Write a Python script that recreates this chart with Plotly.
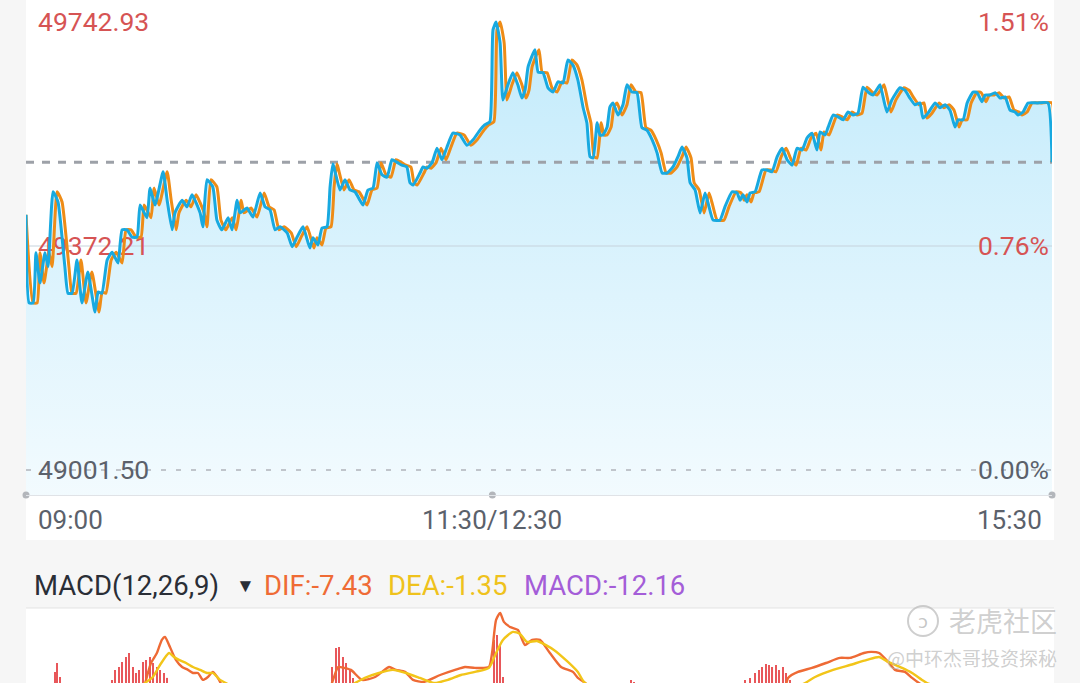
import plotly.graph_objects as go

W, H = 1080, 683

# ---------------- data ----------------
# minutes since 09:00 on a trading-time axis (09:00-11:30 = 0..150, 12:30-15:30 = 150..330)
minute = [
    0, 1.0, 2.3, 3.2, 4.5, 6.1, 7.1, 8.7, 10.3, 12.5,
    13.5, 14.8, 16.4, 18.0, 19.9, 22.2, 23.2, 24.4, 26.1, 27.7,
    29.6, 30.9, 32.5, 34.1, 35.7, 36.7, 38.9, 39.9, 41.5, 44.1,
    45.4, 47.0, 47.9, 50.2, 51.8, 53.4, 56.0, 56.9, 58.2, 60.1,
    61.4, 63.0, 65.0, 66.3, 67.9, 68.8, 71.1, 73.0, 75.3, 76.9,
    78.5, 80.1, 81.7, 84.0, 85.6, 87.2, 89.1, 91.3, 92.3, 93.9,
    95.2, 96.8, 97.8, 98.7, 101.0, 102.6, 104.2, 105.8, 107.4, 108.4,
    110.0, 111.6, 112.9, 114.5, 116.1, 117.7, 119.3, 120.9, 122.5, 123.5,
    124.5, 126.7, 127.7, 129.0, 130.6, 132.2, 133.8, 135.4, 137.3, 139.6,
    141.8, 143.8, 146.0, 147.6, 149.2, 150.2, 151.2, 152.5, 153.4, 155.0,
    156.6, 158.2, 159.5, 160.5, 161.5, 163.7, 164.7, 166.3, 167.9, 169.5,
    171.1, 172.7, 174.3, 175.9, 177.5, 179.2, 180.4, 181.4, 182.4, 183.7,
    184.6, 185.6, 186.9, 187.8, 188.8, 190.4, 192.0, 193.3, 194.9, 196.5,
    198.1, 199.7, 201.4, 203.0, 204.6, 206.2, 208.1, 209.7, 211.0, 212.6,
    213.6, 215.2, 216.8, 218.4, 219.4, 221.0, 223.2, 224.8, 227.1, 228.7,
    229.7, 230.6, 231.9, 232.9, 234.5, 236.7, 238.3, 239.9, 241.6, 243.2,
    244.8, 246.4, 248.0, 249.6, 251.2, 252.8, 254.4, 255.4, 257.0, 258.0,
    259.6, 261.2, 262.8, 264.4, 266.0, 267.6, 269.2, 270.8, 272.4, 274.0,
    274.7, 276.9, 278.5, 281.1, 282.7, 284.3, 285.9, 287.5, 288.5, 290.1,
    292.4, 294.0, 295.6, 297.2, 298.8, 299.8, 301.4, 302.7, 304.6, 305.9,
    307.5, 308.5, 310.1, 311.7, 313.3, 314.9, 316.5, 318.1, 319.1, 320.7,
    322.3, 325.2, 328.7, 330.0,
]
price = [
    49424, 49278, 49278, 49361, 49311, 49361, 49338, 49462, 49445, 49338,
    49294, 49294, 49349, 49278, 49329, 49263, 49296, 49294, 49349, 49362,
    49344, 49399, 49399, 49387, 49387, 49440, 49419, 49468, 49440, 49495,
    49448, 49399, 49427, 49448, 49437, 49457, 49427, 49404, 49482, 49470,
    49415, 49399, 49419, 49399, 49448, 49427, 49435, 49420, 49460, 49437,
    49432, 49399, 49404, 49394, 49371, 49387, 49404, 49369, 49386, 49374,
    49402, 49404, 49470, 49508, 49465, 49482, 49465, 49462, 49448, 49440,
    49465, 49468, 49510, 49490, 49486, 49515, 49511, 49506, 49503, 49477,
    49473, 49493, 49503, 49501, 49510, 49534, 49515, 49536, 49559, 49556,
    49539, 49548, 49564, 49573, 49578, 49730, 49742.93, 49708, 49614, 49639,
    49659, 49639, 49617, 49630, 49669, 49697, 49660, 49659, 49634, 49627,
    49644, 49642, 49680, 49672, 49647, 49601, 49576, 49520, 49518, 49576,
    49556, 49556, 49569, 49602, 49609, 49589, 49606, 49639, 49627, 49626,
    49568, 49564, 49548, 49526, 49493, 49493, 49503, 49520, 49536, 49518,
    49477, 49465, 49427, 49460, 49443, 49415, 49415, 49437, 49462, 49460,
    49448, 49457, 49445, 49460, 49462, 49498, 49498, 49495, 49520, 49534,
    49515, 49506, 49534, 49531, 49551, 49559, 49531, 49561, 49556, 49569,
    49589, 49586, 49581, 49594, 49589, 49592, 49635, 49627, 49622, 49634,
    49639, 49594, 49614, 49634, 49630, 49617, 49606, 49609, 49584, 49592,
    49609, 49601, 49606, 49597, 49569, 49581, 49581, 49609, 49627, 49626,
    49611, 49622, 49622, 49626, 49617, 49619, 49597, 49594, 49589, 49594,
    49609, 49609, 49609, 49511,
]
# the orange line follows the same readings, slightly later in time
orange_minute = [
    0, 2.3, 3.6, 4.5, 5.8, 7.4, 8.4, 10.0, 11.6, 13.8,
    14.8, 16.1, 17.7, 19.3, 21.2, 23.5, 24.5, 25.7, 27.4, 29.0,
    30.9, 32.2, 33.8, 35.4, 37.0, 38.0, 40.2, 41.2, 42.8, 45.4,
    46.7, 48.3, 49.2, 51.5, 53.1, 54.7, 57.3, 58.2, 59.5, 61.4,
    62.7, 64.3, 66.3, 67.6, 69.2, 70.1, 72.4, 74.3, 76.6, 78.2,
    79.8, 81.4, 83.0, 85.3, 86.9, 88.5, 90.4, 92.6, 93.6, 95.2,
    96.5, 98.1, 99.1, 100.0, 102.3, 103.9, 105.5, 107.1, 108.7, 109.7,
    111.3, 112.9, 114.2, 115.8, 117.4, 119.0, 120.6, 122.2, 123.8, 124.8,
    125.8, 128.0, 129.0, 130.3, 131.9, 133.5, 135.1, 136.7, 138.6, 140.9,
    143.1, 145.1, 147.3, 148.9, 150.5, 151.5, 152.5, 153.8, 154.7, 156.3,
    157.9, 159.5, 160.8, 161.8, 162.8, 165.0, 166.0, 167.6, 169.2, 170.8,
    172.4, 174.0, 175.6, 177.2, 178.8, 180.5, 181.7, 182.7, 183.7, 185.0,
    185.9, 186.9, 188.2, 189.1, 190.1, 191.7, 193.3, 194.6, 196.2, 197.8,
    199.4, 201.0, 202.7, 204.3, 205.9, 207.5, 209.4, 211.0, 212.3, 213.9,
    214.9, 216.5, 218.1, 219.7, 220.7, 222.3, 224.5, 226.1, 228.4, 230.0,
    231.0, 231.9, 233.2, 234.2, 235.8, 238.0, 239.6, 241.2, 242.9, 244.5,
    246.1, 247.7, 249.3, 250.9, 252.5, 254.1, 255.7, 256.7, 258.3, 259.3,
    260.9, 262.5, 264.1, 265.7, 267.3, 268.9, 270.5, 272.1, 273.7, 275.3,
    276.0, 278.2, 279.8, 282.4, 284.0, 285.6, 287.2, 288.8, 289.8, 291.4,
    293.7, 295.3, 296.9, 298.5, 300.1, 301.1, 302.7, 304.0, 305.9, 307.2,
    308.8, 309.8, 311.4, 313.0, 314.6, 316.2, 317.8, 319.4, 320.4, 322.0,
    323.6, 326.5, 330.0, 330.0,
]

prev_close = 49001.50
mid_price = 49372.21
max_price = 49742.93
last_price = 49511.0
price_labels = ["49001.50", "49372.21", "49742.93"]
pct_labels = ["0.00%", "0.76%", "1.51%"]
time_ticks = [0, 150, 330]
time_labels = ["09:00", "11:30/12:30", "15:30"]

# MACD(12,26,9) panel (only the top of it is on screen)
dif_minute = [0, 36.7, 39.2, 40.2, 42.1, 43.7, 44.7, 46.3, 48.2, 50.2,
              52.1, 53.7, 55.3, 56.9, 58.5, 60.1, 62.1, 64.3, 75.3, 88.1,
              97.8, 100.4, 102.3, 104.5, 108.1, 112.3, 114.5, 116.8, 119.0, 121.9,
              124.5, 128.0, 133.2, 138.0, 141.2, 144.4, 148.9, 149.9, 151.2, 152.5,
              153.7, 155.7, 158.2, 160.5, 162.8, 165.3, 168.5, 172.1, 175.9, 177.5,
              179.8, 191.1, 210.4, 229.7, 244.1, 245.1, 248.3, 252.8, 257.3, 261.8,
              265.0, 269.5, 271.8, 274.4, 277.3, 279.5, 282.7, 285.0, 287.2, 300.4,
              313.3, 330.0]
dif_value = [-5, 5, 14.4, 18.9, 23.4, 29.3, 30.6, 26.1, 20.3, 17.1,
             15.8, 14.4, 14.4, 11.3, 12.6, 14.9, 11.3, 5, -10, -5,
             8, 17.1, 16.7, 15.8, 11.3, 12.6, 14.9, 17.1, 15.8, 14.9,
             11.3, 10.4, 13.5, 15.8, 17.1, 16.7, 17.1, 23.4, 38.3, 41.4,
             37.4, 35.1, 33.8, 27.0, 29.3, 29.3, 23.4, 17.1, 14.9, 12.2,
             9.9, -8, -15, -5, 8, 12.2, 14.9, 16.7, 18.9, 21.2,
             21.2, 23.4, 23.9, 23.4, 19.4, 15.8, 14.9, 12.2, 9.9, -2,
             -8, -7.43]
dea_minute = [0, 30.2, 38.3, 40.8, 43.1, 46.0, 47.6, 49.2, 51.5, 53.7,
              56.0, 58.2, 60.1, 62.4, 64.3, 78.5, 94.6, 105.8, 109.0, 113.5,
              118.0, 122.2, 126.7, 131.2, 135.7, 139.9, 144.4, 148.9, 151.2, 153.4,
              156.6, 158.9, 161.1, 164.4, 169.8, 174.3, 177.5, 179.8, 200.7, 223.2,
              242.5, 250.6, 253.8, 259.6, 265.0, 270.5, 274.4, 277.3, 281.8, 285.0,
              288.2, 289.8, 306.9, 330.0]
dea_value = [-3, 2, 9.9, 12.6, 18.0, 23.4, 21.6, 20.3, 18.9, 17.1,
             15.8, 14.4, 14.4, 11.3, 9.9, 0, 2, 9.9, 12.2, 14.4,
             15.8, 14.4, 12.2, 9.9, 11.3, 13.5, 14.9, 16.7, 23.4, 29.3,
             32.9, 32.0, 28.4, 28.8, 24.8, 19.4, 14.9, 9.9, 0, -4,
             5, 9.9, 12.6, 15.8, 18.0, 20.3, 21.6, 19.4, 16.7, 14.4,
             11.3, 9.9, 3, -1.35]
bar_minute = [9.3, 10.0, 10.9,
              27.7, 28.6, 29.9, 30.9, 32.2, 33.1, 34.4, 35.4, 36.3, 37.6, 38.6, 39.9, 40.8, 42.1, 43.1, 44.4, 45.4,
              98.4, 99.7, 100.7, 102.0, 102.9, 104.2, 105.2,
              150.5, 151.5, 152.5, 153.4,
              194.6, 195.6,
              231.3, 232.9, 234.5, 235.8, 236.7, 238.0, 239.0, 240.0, 241.2, 242.2, 243.5, 244.5, 245.7]
bar_value = [14.9, 18.9, 12.6,
             11.3, 15.8, 17.1, 19.4, 21.6, 23.4, 17.1, 14.4, 15.8, 19.4, 20.3, 21.6, 18.9, 17.1, 15.8, 14.4, 12.2,
             17.1, 25.7, 26.1, 21.6, 18.9, 15.8, 12.2,
             29.3, 31.5, 27.0, 12.6,
             11.3, 10.4,
             11.3, 12.2, 14.4, 15.8, 17.1, 18.5, 18.0, 17.1, 18.0, 15.8, 17.1, 14.4, 11.3]
macd_title = "MACD(12,26,9)"
dif_text = "DIF:-7.43"
dea_text = "DEA:-1.35"
macd_text = "MACD:-12.16"

# ---------------- styling / layout ----------------
RED = "#d65454"
GREY_TXT = "#5b616b"
FONT = "Roboto"
Y_LO, Y_HI = 48960.13, 49779.34
X_RANGE = [0, 330]


def px(xp):
    return xp / W


def py(yp):
    return 1 - yp / H


xdom = [px(26), px(1052)]
ydom = [py(495), 1.0]
SMOOTH = dict(shape="spline", smoothing=0.45)

fig = go.Figure()

# gradient area (own subplot, drawn first)
fig.add_trace(go.Scatter(
    x=minute, y=price, mode="lines", line=dict(width=0, **SMOOTH), fill="tozeroy",
    fillgradient=dict(type="vertical",
                      colorscale=[[0, "rgba(0,170,240,0.05)"], [1, "rgba(0,170,240,0.24)"]],
                      start=Y_LO, stop=max_price),
    xaxis="x", yaxis="y", hoverinfo="skip", showlegend=False))

# MACD panel
fig.add_trace(go.Bar(x=bar_minute, y=bar_value, width=0.55, marker=dict(color="#e8575a", line=dict(width=0)),
                     xaxis="x2", yaxis="y3", hoverinfo="skip", showlegend=False))
fig.add_trace(go.Scatter(x=dif_minute, y=dif_value, mode="lines",
                         line=dict(color="#ee6a35", width=2.4, shape="spline", smoothing=0.6),
                         xaxis="x2", yaxis="y3", hoverinfo="skip", showlegend=False))
fig.add_trace(go.Scatter(x=dea_minute, y=dea_value, mode="lines",
                         line=dict(color="#f2c519", width=2.4, shape="spline", smoothing=0.6),
                         xaxis="x2", yaxis="y3", hoverinfo="skip", showlegend=False))

# price lines (drawn above the labels)
fig.add_trace(go.Scatter(x=orange_minute, y=price, mode="lines", line=dict(color="#ee8c17", width=3, **SMOOTH),
                         xaxis="x3", yaxis="y4", hoverinfo="skip", showlegend=False))
fig.add_trace(go.Scatter(x=time_ticks, y=[Y_LO] * len(time_ticks), mode="markers", cliponaxis=False,
                         marker=dict(size=7, color="#b3b6bb"),
                         xaxis="x3", yaxis="y4", hoverinfo="skip", showlegend=False))
fig.add_trace(go.Scatter(x=minute, y=price, mode="lines", line=dict(color="#18a9e0", width=3, **SMOOTH),
                         xaxis="x3", yaxis="y5", hoverinfo="skip", showlegend=False))

hidden_x = dict(domain=xdom, range=X_RANGE, showgrid=False, zeroline=False,
                showticklabels=False, ticks="", fixedrange=True)

fig.update_layout(
    width=W, height=H, autosize=False,
    margin=dict(l=0, r=0, t=0, b=0),
    paper_bgcolor="#f6f6f6", plot_bgcolor="rgba(0,0,0,0)",
    showlegend=False,
    xaxis=dict(**hidden_x, anchor="y", visible=False),
    yaxis=dict(domain=ydom, range=[Y_LO, Y_HI], anchor="x", visible=False),
    xaxis2=dict(**hidden_x, anchor="y3", visible=False),
    yaxis3=dict(domain=[0, py(610)], range=[9.9, 42.75], anchor="x2", visible=False),
    xaxis3=dict(**hidden_x, anchor="y4", showline=True, linecolor="#e0e3e7", linewidth=1),
    yaxis4=dict(domain=ydom, range=[Y_LO, Y_HI], anchor="x3", side="left",
                tickmode="array", tickvals=[prev_close, mid_price, max_price],
                ticktext=[f'<span style="color:{GREY_TXT}">{price_labels[0]}</span>',
                          price_labels[1], price_labels[2]],
                ticklabelposition="inside", ticks="", ticklabelstandoff=9,
                ticklabeloverflow="allow", layer="below traces",
                showgrid=False, zeroline=False, showline=False, fixedrange=True,
                tickfont=dict(family=FONT, size=26.5, color=RED)),
    yaxis5=dict(overlaying="y4", range=[Y_LO, Y_HI], anchor="x3", side="right",
                tickmode="array", tickvals=[prev_close, mid_price, max_price],
                ticktext=[f'<span style="color:{GREY_TXT}">{pct_labels[0]}</span>',
                          pct_labels[1], pct_labels[2]],
                ticklabelposition="inside", ticks="", ticklabelstandoff=0,
                ticklabeloverflow="allow", layer="below traces",
                showgrid=False, zeroline=False, showline=False, fixedrange=True,
                tickfont=dict(family=FONT, size=26.5, color=RED)),
)

shapes = [
    # white panels
    dict(type="rect", xref="paper", yref="paper", x0=px(26), x1=px(1054), y0=py(540), y1=1,
         fillcolor="white", line=dict(width=0), layer="below"),
    dict(type="rect", xref="paper", yref="paper", x0=px(26), x1=px(1054), y0=0, y1=py(608),
         fillcolor="white", line=dict(width=0), layer="below"),
    dict(type="line", xref="paper", yref="paper", x0=px(26), x1=px(1054), y0=py(608), y1=py(608),
         line=dict(color="#e3e3e3", width=1), layer="below"),
    # reference lines in the price panel
    dict(type="line", xref="x3", yref="y4", x0=X_RANGE[0], x1=X_RANGE[1], y0=mid_price, y1=mid_price,
         line=dict(color="#c6d3dc", width=1), layer="below"),
    dict(type="line", xref="x3", yref="y4", x0=X_RANGE[0], x1=X_RANGE[1], y0=prev_close, y1=prev_close,
         line=dict(color="#b0b4ba", width=1.5, dash="5px,10px"), layer="below"),
    dict(type="line", xref="x3", yref="y4", x0=X_RANGE[0], x1=X_RANGE[1], y0=last_price, y1=last_price,
         line=dict(color="#9da1a8", width=3, dash="8px,8px"), layer="below"),
    # watermark logo circle
    dict(type="circle", xref="paper", yref="paper", x0=px(908), x1=px(938), y0=py(636), y1=py(606),
         line=dict(color="rgba(180,180,180,0.65)", width=2), layer="above"),
]
fig.update_layout(shapes=shapes)

anns = []
anchors = ["left", "center", "right"]
shifts = [10, 0, -8]
for t, lab, anc, sh in zip(time_ticks, time_labels, anchors, shifts):
    anns.append(dict(x=t, xref="x3", y=py(520), yref="paper", text=lab, showarrow=False,
                     xanchor=anc, yanchor="middle", xshift=sh,
                     font=dict(family=FONT, size=26, color=GREY_TXT)))

header = [
    (32, macd_title, "#2a2e36", 27.5),
    (234, "▼", "#2a2e36", 19),
    (262, dif_text, "#ef6b35", 27.5),
    (386, dea_text, "#efc21c", 27.5),
    (522, macd_text, "#a45dd8", 27.5),
]
for xp, txt, col, sz in header:
    anns.append(dict(x=px(xp), xref="paper", y=py(585), yref="paper", text=txt, showarrow=False,
                     xanchor="left", yanchor="middle", xshift=0,
                     font=dict(family=FONT, size=sz, color=col)))

# watermark
anns.append(dict(x=px(1059), xref="paper", y=py(620), yref="paper", text="老虎社区", showarrow=False,
                 xanchor="right", yanchor="middle",
                 font=dict(family="Noto Sans CJK SC", size=27, color="rgba(180,180,180,0.65)")))
anns.append(dict(x=px(1059), xref="paper", y=py(657), yref="paper", text="@中环杰哥投资探秘",
                 showarrow=False, xanchor="right", yanchor="middle",
                 font=dict(family="Noto Sans CJK SC", size=19, color="rgba(180,180,180,0.65)")))
anns.append(dict(x=px(923), xref="paper", y=py(621), yref="paper", text="ↄ", showarrow=False,
                 xanchor="center", yanchor="middle",
                 font=dict(family="DejaVu Sans", size=18, color="rgba(180,180,180,0.75)")))

fig.update_layout(annotations=anns)

fig.write_html("out.html", config={"displayModeBar": False},
               post_script="document.body.style.margin='0';")
